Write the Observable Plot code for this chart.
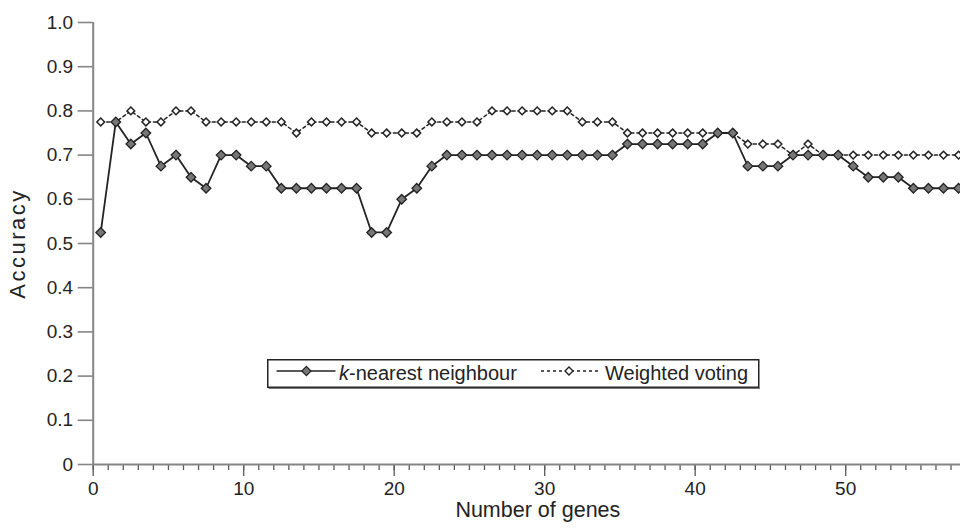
<!DOCTYPE html>
<html>
<head>
<meta charset="utf-8">
<script src="https://cdn.jsdelivr.net/npm/d3@7"></script>
<script src="https://cdn.jsdelivr.net/npm/@observablehq/plot@0.6"></script>
<style>
  html, body { margin: 0; padding: 0; background: #fff; }
  #wrap { position: relative; width: 960px; height: 528px; overflow: hidden; font-family: "Liberation Sans", Arial, sans-serif; }
  #legend { position: absolute; left: 267px; top: 359px; }
  .ytitle { letter-spacing: 2.5px; }
</style>
</head>
<body>
<div id="wrap"></div>
<script>
// Number of genes (categories); plotted at the centre of each category slot
const genes = [1,2,3,4,5,6,7,8,9,10,11,12,13,14,15,16,17,18,19,20,
  21,22,23,24,25,26,27,28,29,30,31,32,33,34,35,36,37,38,39,40,
  41,42,43,44,45,46,47,48,49,50,51,52,53,54,55,56,57,58];

// k-nearest neighbour accuracy
const knn = [0.525,0.775,0.725,0.75,0.675,0.70,0.65,0.625,0.70,0.70,
  0.675,0.675,0.625,0.625,0.625,0.625,0.625,0.625,0.525,0.525,
  0.60,0.625,0.675,0.70,0.70,0.70,0.70,0.70,0.70,0.70,
  0.70,0.70,0.70,0.70,0.70,0.725,0.725,0.725,0.725,0.725,
  0.725,0.75,0.75,0.675,0.675,0.675,0.70,0.70,0.70,0.70,
  0.675,0.65,0.65,0.65,0.625,0.625,0.625,0.625];

// Weighted voting accuracy
const wv = [0.775,0.775,0.80,0.775,0.775,0.80,0.80,0.775,0.775,0.775,
  0.775,0.775,0.775,0.75,0.775,0.775,0.775,0.775,0.75,0.75,
  0.75,0.75,0.775,0.775,0.775,0.775,0.80,0.80,0.80,0.80,
  0.80,0.80,0.775,0.775,0.775,0.75,0.75,0.75,0.75,0.75,
  0.75,0.75,0.75,0.725,0.725,0.725,0.70,0.725,0.70,0.70,
  0.70,0.70,0.70,0.70,0.70,0.70,0.70,0.70];

const yTicks = [0,0.1,0.2,0.3,0.4,0.5,0.6,0.7,0.8,0.9,1.0];
const yTickLabels = ["0","0.1","0.2","0.3","0.4","0.5","0.6","0.7","0.8","0.9","1.0"];
const xMajorTicks = [0,10,20,30,40,50];
const xMinorTicks = d3.range(0, 58);
const xTitle = "Number of genes";
const yTitle = "Accuracy";
const seriesNames = ["k-nearest neighbour", "Weighted voting"];

const knnData = genes.map((g, i) => ({genes: g, acc: knn[i]}));
const wvData = genes.map((g, i) => ({genes: g, acc: wv[i]}));
const xPos = d => d.genes - 0.5;

const axisColor = "#858585";
const tickColor = "#5a5a5a";
const ink = "#232323";

const chart = Plot.plot({
  width: 960,
  height: 528,
  marginLeft: 92.7,
  marginRight: 0,
  marginTop: 22,
  marginBottom: 64,
  x: {domain: [0, 57.63]},
  y: {domain: [0, 1]},
  style: {fontFamily: "'Liberation Sans', Arial, sans-serif", fontSize: "19px", color: ink, background: "#fff"},
  marks: [
    Plot.axisX({ticks: xMinorTicks, tickSize: 6, tickFormat: () => "", label: null, stroke: tickColor, strokeWidth: 1.3}),
    Plot.axisX({ticks: xMajorTicks, tickSize: 12, tickPadding: 5, tickFormat: d => String(d), label: null, stroke: tickColor, strokeWidth: 1.3, fill: ink}),
    Plot.axisY({ticks: yTicks, tickSize: 15, tickPadding: 5, tickFormat: d => yTickLabels[yTicks.indexOf(d)], label: null, stroke: axisColor, strokeWidth: 1.6, fill: ink}),
    Plot.ruleY([0], {stroke: axisColor, strokeWidth: 2}),
    Plot.ruleX([0], {y1: 0, y2: 1, stroke: axisColor, strokeWidth: 2}),
    Plot.text([xTitle], {frameAnchor: "bottom", dx: 11, dy: 52, fontSize: 21.5, fill: ink}),
    Plot.text([yTitle], {frameAnchor: "left", textAnchor: "middle", dx: -75, rotate: -90, fontSize: 22, fill: ink, className: "ytitle"}),
    Plot.line(wvData, {x: xPos, y: "acc", stroke: ink, strokeWidth: 1.5, strokeDasharray: "3,3"}),
    Plot.dot(wvData, {x: xPos, y: "acc", symbol: "diamond2", r: 3.5, fill: "#fff", stroke: ink, strokeWidth: 1.5}),
    Plot.line(knnData, {x: xPos, y: "acc", stroke: ink, strokeWidth: 1.8}),
    Plot.dot(knnData, {x: xPos, y: "acc", symbol: "diamond2", r: 4.3, fill: "#767676", stroke: ink, strokeWidth: 1.3})
  ]
});

const wrap = document.getElementById("wrap");
wrap.appendChild(chart);

// Legend (inside the plot area)
const ns = "http://www.w3.org/2000/svg";
const lg = document.createElementNS(ns, "svg");
lg.setAttribute("id", "legend");
lg.setAttribute("width", 494);
lg.setAttribute("height", 31);
lg.innerHTML = `
  <rect x="0.75" y="0.75" width="491" height="27.5" fill="#fff" stroke="${ink}" stroke-width="1.5"/>
  <line x1="1.5" x2="493" y1="29.3" y2="29.3" stroke="#555" stroke-width="1"/>
  <line x1="9.5" x2="68.5" y1="12" y2="12" stroke="${ink}" stroke-width="1.6"/>
  <path d="M39.4,7.4L44,12L39.4,16.6L34.8,12Z" fill="#767676" stroke="${ink}" stroke-width="1.2"/>
  <text x="72" y="21" font-family="'Liberation Sans', Arial, sans-serif" font-size="20" fill="${ink}"><tspan font-style="italic">k</tspan>-nearest neighbour</text>
  <line x1="274" x2="333" y1="12" y2="12" stroke="${ink}" stroke-width="1.4" stroke-dasharray="3,3"/>
  <path d="M302,8L306,12L302,16L298,12Z" fill="#fff" stroke="${ink}" stroke-width="1.4"/>
  <text x="338" y="21" font-family="'Liberation Sans', Arial, sans-serif" font-size="20" fill="${ink}">${seriesNames[1]}</text>
`;
wrap.appendChild(lg);
</script>
</body>
</html>
